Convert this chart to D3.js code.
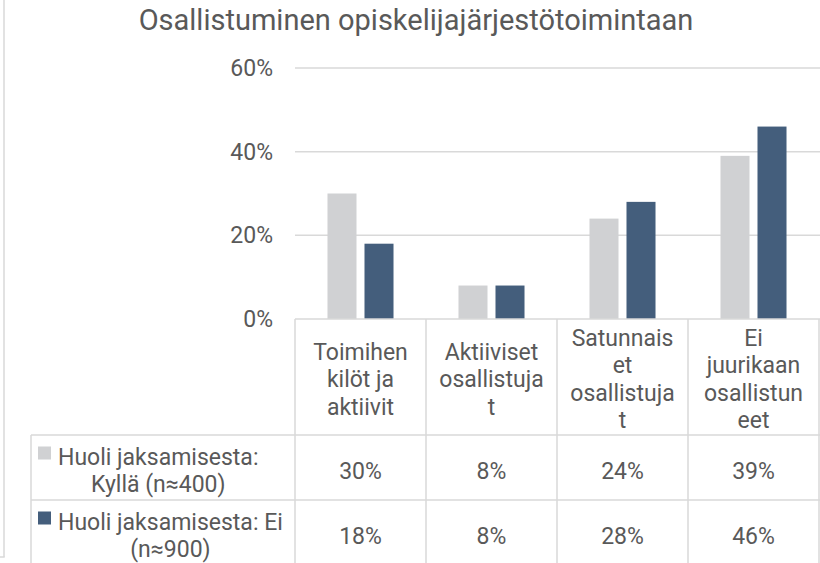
<!DOCTYPE html>
<html>
<head>
    <meta http-equiv="Content-Type" content="text/html;charset=utf-8">
    <script src="https://d3js.org/d3.v7.min.js"></script>
    <style>
        html, body {
            margin: 0;
            padding: 0;
            width: 820px;
            height: 563px;
            overflow: hidden;
            background: #fff;
        }

        svg text {
            font-family: Roboto, "Open Sans", sans-serif;
            fill: #595959;
        }

        .grid line, .table line {
            stroke: #d9d9d9;
            stroke-width: 1.5px;
        }
    </style>
</head>
<body>
<div id="chart"></div>
<script>
    var title = "Osallistuminen opiskelijajärjestötoimintaan";

    // category labels, as wrapped in the data table header
    var categories = ["Toimihenkilöt ja aktiivit", "Aktiiviset osallistujat",
        "Satunnaiset osallistujat", "Ei juurikaan osallistuneet"];
    var categoryLines = [
        ["Toimihen", "kilöt ja", "aktiivit"],
        ["Aktiiviset", "osallistuja", "t"],
        ["Satunnais", "et", "osallistuja", "t"],
        ["Ei", "juurikaan", "osallistun", "eet"]
    ];

    var seriesNames = ["Huoli jaksamisesta: Kyllä (n≈400)", "Huoli jaksamisesta: Ei (n≈900)"];
    var seriesLines = [
        ["Huoli jaksamisesta:", "Kyllä (n≈400)"],
        ["Huoli jaksamisesta: Ei", "(n≈900)"]
    ];
    var seriesColors = ["#d0d1d3", "#445e7c"];

    var kylla = [30, 8, 24, 39];
    var ei = [18, 8, 28, 46];
    var values = [kylla, ei];

    var yTicks = [0, 20, 40, 60];

    var width = 820, height = 563;
    var plotLeft = 295, plotRight = 819, plotTop = 68, plotBottom = 319;
    var legendLeft = 31;
    var headerBottom = 435, rowHeight = 65;
    var fontSize = "23px";

    var svg = d3.select("#chart").append("svg")
        .attr("width", width)
        .attr("height", height);

    // outer chart border (only its left edge is visible)
    svg.append("line")
        .attr("x1", 4).attr("x2", 4).attr("y1", 0).attr("y2", 557)
        .attr("stroke", "#d9d9d9").attr("stroke-width", 1.5);
    svg.append("line")
        .attr("x1", 0).attr("x2", 4.75).attr("y1", 557).attr("y2", 557)
        .attr("stroke", "#d9d9d9").attr("stroke-width", 1.5);

    svg.append("text")
        .attr("x", 416)
        .attr("y", 30)
        .attr("text-anchor", "middle")
        .style("font-size", "29px")
        .text(title);

    var x0 = d3.scaleBand()
        .domain(categories)
        .range([plotLeft, plotRight]);

    var x1 = d3.scaleBand()
        .domain(seriesNames)
        .range([0, x0.bandwidth()])
        .paddingInner(0.216)
        .paddingOuter(0.878);

    var y = d3.scaleLinear()
        .domain([0, 60])
        .range([plotBottom, plotTop]);

    // gridlines
    svg.append("g")
        .attr("class", "grid")
        .selectAll("line")
        .data(yTicks.filter(function (d) { return d > 0; }))
        .enter().append("line")
        .attr("x1", plotLeft).attr("x2", width)
        .attr("y1", function (d) { return y(d); })
        .attr("y2", function (d) { return y(d); });

    // y axis labels
    var yAxis = svg.append("g")
        .attr("transform", "translate(" + (plotLeft + 8) + ",0)")
        .call(d3.axisLeft(y).tickValues(yTicks).tickSize(0).tickPadding(30)
            .tickFormat(function (d) { return d + "%"; }));
    yAxis.select(".domain").remove();
    yAxis.selectAll("text")
        .style("font-size", fontSize)
        .attr("fill", "#595959")
        .style("font-family", "Roboto, 'Open Sans', sans-serif");

    // bars
    svg.append("g")
        .selectAll("g")
        .data(categories)
        .enter().append("g")
        .attr("transform", function (d) { return "translate(" + x0(d) + ",0)"; })
        .selectAll("rect")
        .data(function (d, i) {
            return seriesNames.map(function (s, j) { return {s: s, v: values[j][i], j: j}; });
        })
        .enter().append("rect")
        .attr("x", function (d) { return x1(d.s); })
        .attr("width", x1.bandwidth())
        .attr("y", function (d) { return y(d.v); })
        .attr("height", function (d) { return y(0) - y(d.v); })
        .attr("fill", function (d) { return seriesColors[d.j]; });

    // data table
    var table = svg.append("g").attr("class", "table");
    var colEdges = categories.map(function (c) { return x0(c); }).concat([plotRight]);

    table.append("line")
        .attr("x1", plotLeft).attr("x2", width)
        .attr("y1", plotBottom).attr("y2", plotBottom);
    [headerBottom, headerBottom + rowHeight, headerBottom + 2 * rowHeight].forEach(function (yy) {
        table.append("line")
            .attr("x1", legendLeft).attr("x2", width)
            .attr("y1", yy).attr("y2", yy);
    });
    colEdges.forEach(function (xx) {
        table.append("line")
            .attr("x1", xx).attr("x2", xx)
            .attr("y1", plotBottom).attr("y2", height);
    });
    table.append("line")
        .attr("x1", legendLeft).attr("x2", legendLeft)
        .attr("y1", headerBottom).attr("y2", height);

    var lineH = 27.5;
    var headerMid = (plotBottom + headerBottom) / 2 + 2;

    categories.forEach(function (c, i) {
        var lines = categoryLines[i];
        var t = svg.append("text")
            .attr("text-anchor", "middle")
            .style("font-size", fontSize);
        lines.forEach(function (l, k) {
            t.append("tspan")
                .attr("x", x0(c) + x0.bandwidth() / 2)
                .attr("y", headerMid + (k - (lines.length - 1) / 2) * lineH)
                .attr("dy", "0.35em")
                .text(l);
        });
    });

    // values in table rows
    values.forEach(function (row, j) {
        var rowMid = headerBottom + j * rowHeight + rowHeight / 2 + 3;
        categories.forEach(function (c, i) {
            svg.append("text")
                .attr("x", x0(c) + x0.bandwidth() / 2)
                .attr("y", rowMid)
                .attr("dy", "0.35em")
                .attr("text-anchor", "middle")
                .style("font-size", fontSize)
                .text(row[i] + "%");
        });

        // legend key and series name
        var keyX = 38, textX = 58;
        var lines = seriesLines[j];
        var top = rowMid - 13.5;
        svg.append("rect")
            .attr("x", keyX)
            .attr("y", top - 10.5)
            .attr("width", 13)
            .attr("height", 13)
            .attr("fill", seriesColors[j]);
        var t = svg.append("text")
            .attr("text-anchor", "middle")
            .style("font-size", fontSize);
        var spans = lines.map(function (l, k) {
            return t.append("tspan")
                .attr("y", top + k * 27)
                .attr("dy", "0.35em")
                .text(l);
        });
        var maxW = d3.max(spans, function (s) { return s.node().getComputedTextLength(); });
        spans.forEach(function (s) { s.attr("x", textX + maxW / 2); });
    });
</script>
</body>
</html>
